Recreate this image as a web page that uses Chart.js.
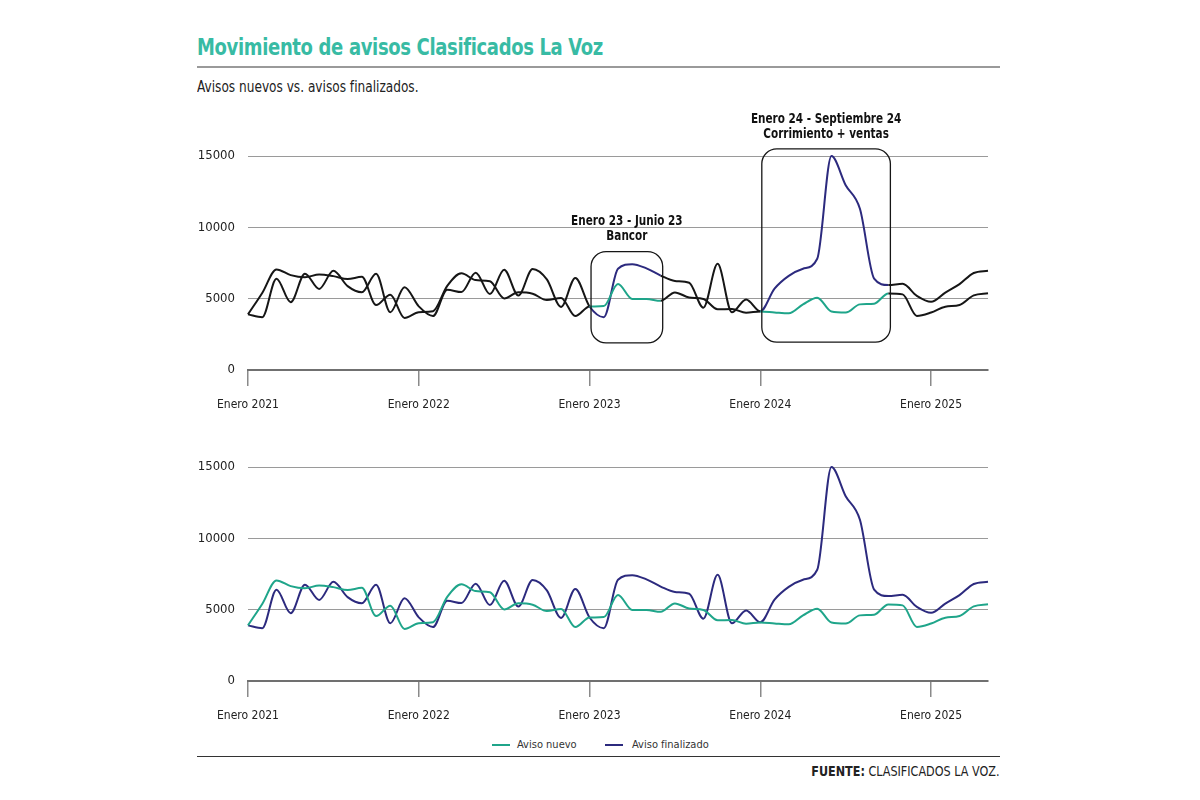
<!DOCTYPE html>
<html lang="es">
<head>
<meta charset="utf-8">
<title>Movimiento de avisos Clasificados La Voz</title>
<script src="https://cdn.jsdelivr.net/npm/chart.js@4.4.1/dist/chart.umd.min.js"></script>
<style>
  body { margin: 0; background: #fff; color: #222;
         font-family: "Liberation Sans Narrow", "DejaVu Sans Condensed", Roboto, sans-serif; }
  #page { position: relative; width: 1200px; height: 800px; overflow: hidden; }
  .abs { position: absolute; }
  #titulo { left: 197px; top: 33px; font-size: 23px; line-height: 28px; font-weight: bold; color: #38bba4;
            letter-spacing: -0.4px; transform: scaleX(0.87); transform-origin: left center; white-space: nowrap; }
  #linea1 { left: 197px; top: 66px; width: 803px; border-top: 2px solid #9a9a9a; }
  #subtitulo { left: 197px; top: 78px; font-size: 15px; line-height: 18px; transform: scaleX(0.9); transform-origin: left center; white-space: nowrap; }
  #grafico1 { left: 180px; top: 100px; }
  #grafico2 { left: 180px; top: 440px; }
  .ley { top: 737px; font-size: 11px; line-height: 16px; color: #333; }
  .muestra { position: absolute; top: 744px; width: 18px; height: 0; border-top: 2px solid; }
  #linea2 { left: 197px; top: 756px; width: 803px; border-top: 1.5px solid #333; }
  #fuente { right: 200px; top: 762px; font-size: 14px; line-height: 18px; transform: scaleX(0.89); transform-origin: right center; white-space: nowrap; }
</style>
</head>
<body>
<div id="page">
  <div id="titulo" class="abs">Movimiento de avisos Clasificados La Voz</div>
  <div id="linea1" class="abs"></div>
  <div id="subtitulo" class="abs">Avisos nuevos vs. avisos finalizados.</div>
  <canvas id="grafico1" class="abs" width="820" height="320"></canvas>
  <canvas id="grafico2" class="abs" width="820" height="291"></canvas>
  <div class="muestra" style="left:492px;border-color:#1fa58a"></div>
  <div class="abs ley" style="left:517px">Aviso nuevo</div>
  <div class="muestra" style="left:605px;border-color:#2c2a7e"></div>
  <div class="abs ley" style="left:632px">Aviso finalizado</div>
  <div id="linea2" class="abs"></div>
  <div id="fuente" class="abs"><b>FUENTE:</b> CLASIFICADOS LA VOZ.</div>
</div>
<script>
// meses enero 2021 - mayo 2025
const anios = [2021, 2022, 2023, 2024, 2025];
const meses = ["Enero", "Febrero", "Marzo", "Abril", "Mayo", "Junio", "Julio", "Agosto", "Septiembre", "Octubre", "Noviembre", "Diciembre"];
const totalMeses = 53;

const avisoNuevo = [3900, 5400, 7050, 6650, 6500, 6700, 6580, 6380, 6530, 4550, 5280, 3650,
  4050, 4120, 5900, 6780, 6300, 6220, 5020, 5450, 5350, 4900, 5050, 3780,
  4450, 4480, 6030, 4980, 4970, 4850, 5440, 5080, 4980, 4260, 4270, 4020,
  4100, 4030, 3970, 4600, 5070, 4100, 4030, 4600, 4650, 5370, 5300, 3790,
  4030, 4440, 4560, 5230, 5380];

const avisoFinalizado = [3900, 3700, 6400, 4750, 6750, 5680, 6950, 5880, 5450, 6750, 4050, 5800,
  4460, 3780, 5620, 5460, 6820, 5320, 7030, 5220, 7080, 6350, 4420, 6450,
  4450, 3700, 7100, 7420, 7120, 6620, 6240, 6120, 4370, 7440, 4050, 4950,
  4120, 5700, 6600, 7100, 7800, 15000, 12950, 11300, 6400, 5950, 6040, 5200,
  4780, 5430, 6020, 6800, 6950];

const ticksY = [0, 5000, 10000, 15000];

// periodos destacados (indices de mes) y sus textos
const periodoDesde = [24, 36];
const periodoHasta = [29, 45];
const periodoTexto = [["Enero 23 - Junio 23", "Bancor"], ["Enero 24 - Septiembre 24", "Corrimiento + ventas"]];
const cajaArriba = [8300, 15500];
const cajaAbajo = [1900, 1950];

const categorias = [];
for (let i = 0; i < totalMeses; i++) {
    categorias.push(meses[i % 12] + " " + anios[Math.floor(i / 12)]);
}

const VERDE = "#1fa58a";
const AZUL = "#2c2a7e";
const NEGRO = "#161616";
const fuente = '"Liberation Sans Narrow", "DejaVu Sans Condensed", Roboto, sans-serif';

function enPeriodo(a, b) {
    for (let k = 0; k < periodoDesde.length; k++) {
        if (a >= periodoDesde[k] && b <= periodoHasta[k]) return true;
    }
    return false;
}

const cajas = {
    id: "cajas",
    afterDatasetsDraw(chart) {
        const ctx = chart.ctx;
        const x = chart.scales.x, y = chart.scales.y;
        ctx.save();
        for (let k = 0; k < periodoDesde.length; k++) {
            const x0 = x.getPixelForValue(periodoDesde[k]) + 1.5;
            const x1 = x.getPixelForValue(periodoHasta[k]) + 2;
            const y0 = y.getPixelForValue(cajaArriba[k]);
            const y1 = y.getPixelForValue(cajaAbajo[k]);
            ctx.beginPath();
            ctx.roundRect(x0, y0, x1 - x0, y1 - y0, 15);
            ctx.lineWidth = 1.3;
            ctx.strokeStyle = NEGRO;
            ctx.stroke();

            // texto algo comprimido, como el original
            const cx = (x0 + x1) / 2;
            ctx.fillStyle = "#111";
            ctx.font = "bold 14px " + fuente;
            ctx.textAlign = "center";
            ctx.textBaseline = "middle";
            periodoTexto[k].forEach((t, j) => {
                ctx.save();
                ctx.translate(cx, y0 - 30 + j * 15);
                ctx.scale(0.83, 1);
                ctx.fillText(t, 0, 0);
                ctx.restore();
            });
        }
        ctx.restore();
    }
};

function opciones(arriba) {
    return {
        responsive: false,
        animation: false,
        layout: { padding: { top: arriba, right: 10, left: 0, bottom: 0 } },
        plugins: { legend: { display: false }, tooltip: { enabled: false } },
        elements: { point: { radius: 0 }, line: { borderWidth: 2, cubicInterpolationMode: "monotone" } },
        scales: {
            x: {
                afterFit: s => { s.height = 50; },
                border: { display: true, color: "#707070", width: 2 },
                grid: {
                    drawOnChartArea: false, drawTicks: true, tickLength: 16, lineWidth: 1.5,
                    color: c => (c.index % 12 === 0 ? "#8a8a8a" : "rgba(0,0,0,0)")
                },
                ticks: {
                    autoSkip: false, maxRotation: 0, padding: 12, color: "#222",
                    font: { family: fuente, size: 12 },
                    callback: (v, i) => (i % 12 === 0 ? categorias[i] : "")
                }
            },
            y: {
                min: 0, max: 15000,
                afterFit: s => { s.width = 68; },
                afterBuildTicks: s => { s.ticks = ticksY.map(v => ({ value: v })); },
                border: { display: false },
                grid: { color: "#9a9a9a", lineWidth: 1, drawTicks: false },
                ticks: {
                    padding: 13, color: "#222",
                    font: { family: fuente, size: 13 },
                    callback: v => String(v)
                }
            }
        }
    };
}

window.onload = () => {
    // grafico de arriba: negro salvo en los periodos destacados
    new Chart(document.getElementById("grafico1"), {
        type: "line",
        data: {
            labels: categorias,
            datasets: [
                {
                    label: "Aviso nuevo", data: avisoNuevo, borderColor: NEGRO, clip: false,
                    segment: { borderColor: c => (enPeriodo(c.p0DataIndex, c.p1DataIndex) ? VERDE : NEGRO) }
                },
                {
                    label: "Aviso finalizado", data: avisoFinalizado, borderColor: NEGRO, clip: false,
                    segment: { borderColor: c => (enPeriodo(c.p0DataIndex, c.p1DataIndex) ? AZUL : NEGRO) }
                }
            ]
        },
        options: opciones(56),
        plugins: [cajas]
    });

    new Chart(document.getElementById("grafico2"), {
        type: "line",
        data: {
            labels: categorias,
            datasets: [
                { label: "Aviso nuevo", data: avisoNuevo, borderColor: VERDE, clip: false },
                { label: "Aviso finalizado", data: avisoFinalizado, borderColor: AZUL, clip: false }
            ]
        },
        options: opciones(27)
    });
};
</script>
</body>
</html>
